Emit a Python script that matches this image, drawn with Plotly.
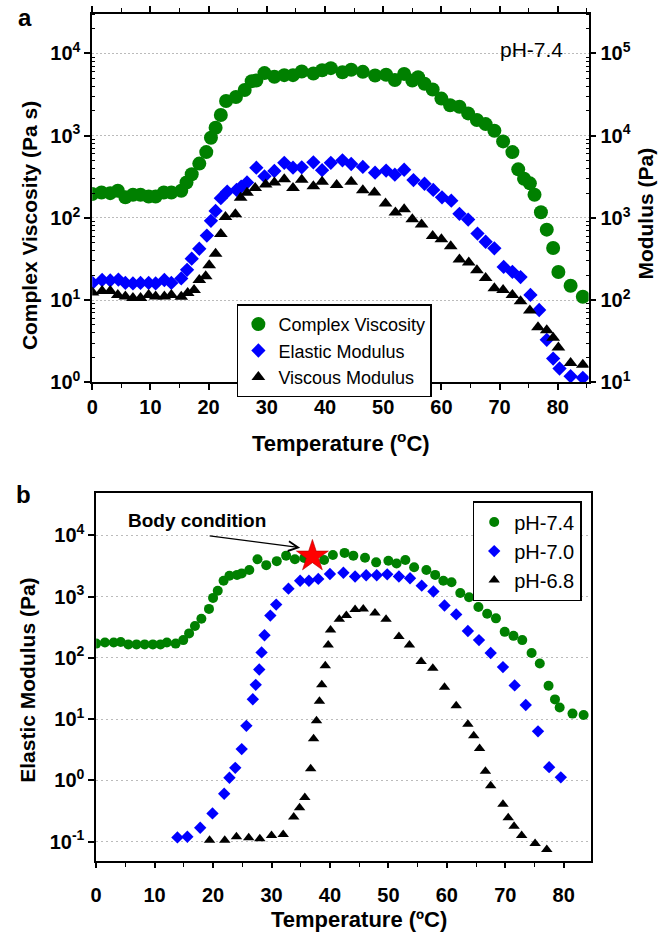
import plotly.graph_objects as go

# ---------------- Panel a data ----------------
a_visc_T = [0.0, 1.6, 3.1, 4.4, 5.7, 7.0, 8.3, 9.7, 10.9, 12.3, 13.6, 15.3, 16.2, 17.1, 18.4, 19.6, 20.4, 21.2, 22.1, 23.0,
            24.7, 26.2, 27.4, 28.2, 29.6, 31.3, 33.0, 34.5, 36.0, 38.0, 39.5, 41.0, 43.0, 44.5, 46.5, 48.6, 50.5, 52.0, 53.6, 55.0,
            56.0, 57.1, 58.5, 60.0, 61.5, 63.1, 64.6, 66.1, 67.6, 69.1, 70.6, 72.2, 73.2, 74.2, 75.2, 76.0, 77.1, 78.1, 79.2, 80.1,
            82.2, 84.3]
a_visc = [195, 204, 200, 214, 178, 191, 191, 182, 182, 204, 204, 214, 269, 339, 457, 631, 944, 1245, 1778, 2630,
          2951, 3589, 4571, 4677, 5754, 5188, 5433, 5433, 6026, 5689, 6237, 6607, 5888, 6310, 5957, 5370, 5495, 4732, 5623, 4677,
          5129, 4266, 3631, 2818, 2344, 2239, 1862, 1549, 1380, 1148, 851, 631, 389, 299, 263, 191, 117, 72, 43, 22,
          15, 11]

a_elas_T = [0.05, 1.7, 3.1, 4.5, 5.7, 7.0, 8.3, 9.7, 10.9, 12.4, 13.6, 15.3, 16.3, 17.1, 18.4, 19.7, 20.4, 21.2, 22.1, 23.2,
            24.8, 25.6, 26.6, 28.2, 29.6, 31.3, 33.0, 34.5, 36.0, 38.0, 39.5, 41.0, 43.0, 44.5, 46.5, 48.6, 50.5, 52.0, 53.6, 55.2,
            57.1, 58.6, 60.1, 61.7, 63.1, 64.6, 66.2, 67.6, 69.1, 70.7, 72.2, 73.6, 75.3, 76.8, 78.1, 79.2, 80.3, 82.2, 84.3]
a_elas = [162, 176, 174, 178, 162, 160, 162, 162, 160, 176, 162, 184, 234, 320, 422, 610, 923, 1216, 1738, 2089,
          2188, 2399, 2692, 4074, 3199, 3715, 4677, 4074, 4121, 4732, 3802, 4677, 5012, 4519, 4169, 3548, 3758, 3350, 3846, 2884,
          2600, 2188, 1778, 1622, 1122, 955, 646, 513, 427, 254, 221, 191, 116, 76, 33, 19.5, 14.8, 11.9, 11.4]

a_visc_mod_T = [0.05, 1.7, 3.1, 4.4, 5.7, 7.0, 8.3, 9.7, 10.9, 12.4, 13.6, 15.3, 16.4, 17.5, 18.4, 19.5, 20.1, 21.2, 22.1, 22.9,
                24.6, 25.5, 26.6, 28.0, 29.8, 31.3, 33.0, 34.5, 36.0, 38.0, 39.5, 42.0, 44.5, 46.5, 48.5, 50.4, 52.1, 53.6, 55.0, 56.6,
                58.5, 60.0, 61.6, 63.1, 64.7, 66.1, 67.6, 69.1, 70.6, 72.2, 73.6, 75.2, 76.6, 78.1, 79.2, 80.1, 82.2, 84.3]
a_visc_mod = [124, 129, 129, 116, 111, 106, 106, 116, 111, 111, 116, 110, 122, 133, 176, 195, 266, 367, 638, 1023,
              1109, 1758, 2018, 2317, 2541, 2692, 2951, 2317, 2917, 2427, 2754, 2512, 2754, 2163, 2042, 1496, 1161, 1274, 966, 832,
              603, 550, 452, 313, 288, 232, 186, 140, 133, 116, 97, 75, 47, 43, 35, 26.6, 17.2, 16.4]

# ---------------- Panel b data ----------------
b74_T = [0.0, 1.5, 3.0, 4.2, 5.5, 6.9, 8.3, 9.7, 11.0, 12.1, 13.6, 14.9, 15.9, 16.9, 18.0, 19.3, 20.0, 20.8, 21.8, 22.8,
         24.1, 24.9, 26.2, 27.6, 29.1, 30.9, 32.5, 34.0, 35.6, 37.1, 39.0, 40.5, 42.5, 44.0, 46.0, 47.9, 50.0, 51.4, 52.9, 54.4,
         56.5, 58.0, 59.4, 60.8, 62.3, 63.8, 65.4, 66.9, 68.4, 69.9, 71.4, 72.9, 74.5, 75.9, 77.4, 78.5, 79.3, 81.5, 83.4]
b74 = [171, 178, 178, 182, 166, 166, 166, 166, 166, 178, 171, 195, 251, 331, 437, 631, 955, 1245, 1820, 2188,
       2265, 2399, 2723, 4074, 3273, 3802, 4677, 4074, 4266, 4365, 3981, 4786, 5188, 4677, 4315, 3631, 3846, 3467, 3981, 3020,
       2723, 2265, 1820, 1718, 1148, 977, 676, 525, 442, 266, 229, 195, 120, 81, 35, 21, 15.5, 12.3, 11.7]

b70_T = [13.9, 15.6, 17.8, 19.9, 21.9, 22.8, 23.8, 24.9, 25.7, 26.8, 27.3, 27.9, 28.3, 28.8, 29.8, 30.8, 32.9, 34.9, 36.4, 38.0,
         40.0, 42.3, 44.3, 46.2, 48.0, 49.8, 51.8, 53.7, 55.7, 57.7, 59.6, 61.6, 63.6, 65.5, 67.5, 69.6, 71.6, 73.5, 75.6, 77.5, 79.5]
b70 = [0.117, 0.120, 0.168, 0.288, 0.603, 1.10, 1.60, 3.24, 7.76, 21.1, 36.3, 64.6, 123, 234, 490, 741, 1349, 1820, 1820, 1950,
       2344, 2455, 2138, 2239, 2239, 2317, 2138, 1995, 1514, 1216, 716, 513, 275, 195, 120, 70.8, 35.5, 17.0, 6.31, 1.64, 1.12]

b68_T = [19.4, 22.0, 24.0, 26.1, 28.0, 30.0, 32.0, 33.8, 34.8, 35.7, 36.7, 37.2, 37.7, 38.2, 38.6, 39.2, 39.7, 40.1, 41.6, 42.8,
         44.3, 45.7, 47.7, 49.6, 51.8, 53.6, 55.6, 57.6, 59.6, 61.6, 63.6, 64.6, 65.6, 66.6, 67.5, 69.6, 70.5, 71.5, 72.8, 75.1, 77.1]
b68 = [0.105, 0.105, 0.120, 0.115, 0.111, 0.126, 0.130, 0.251, 0.355, 0.525, 1.55, 4.79, 9.44, 19.5, 36.3, 74.1, 162, 285, 427, 490,
       617, 631, 543, 427, 224, 162, 87.1, 67.6, 33.1, 16.6, 8.22, 5.37, 3.31, 1.41, 0.813, 0.407, 0.245, 0.178, 0.126, 0.093, 0.074]

body_T = [37.0]
body_val = [4570]

x_ticks = [0, 10, 20, 30, 40, 50, 60, 70, 80]
a_left_exp = [0, 1, 2, 3, 4]
a_right_exp = [1, 2, 3, 4, 5]
b_exp = [-1, 0, 1, 2, 3, 4]

GREEN = "#008000"
BLUE = "#0000ff"
BLACK = "#000000"
FONT = "Liberation Sans"

W, H = 659, 943


def px(x):
    return x / W


def py(y):
    return 1 - y / H


def sup(e):
    return "10<sup>%d</sup>" % e


def minor_vals(exps_lo, exps_hi):
    return [m * 10 ** e for e in range(exps_lo, exps_hi) for m in range(2, 10)]


fig = go.Figure()

# Panel a traces
fig.add_trace(go.Scatter(x=a_visc_T, y=a_visc, mode="markers", name="Complex Viscosity",
                         marker=dict(symbol="circle", size=14, color=GREEN), xaxis="x", yaxis="y", legend="legend"))
fig.add_trace(go.Scatter(x=a_elas_T, y=a_elas, mode="markers", name="Elastic Modulus",
                         marker=dict(symbol="diamond", size=11, color=BLUE), xaxis="x", yaxis="y2", legend="legend"))
fig.add_trace(go.Scatter(x=a_visc_mod_T, y=a_visc_mod, mode="markers", name="Viscous Modulus",
                         marker=dict(symbol="triangle-up", size=12, color=BLACK), xaxis="x", yaxis="y2", legend="legend"))

# Panel b traces
fig.add_trace(go.Scatter(x=b74_T, y=b74, mode="markers", name="pH-7.4",
                         marker=dict(symbol="circle", size=10, color=GREEN), xaxis="x2", yaxis="y3", legend="legend2"))
fig.add_trace(go.Scatter(x=b70_T, y=b70, mode="markers", name="pH-7.0",
                         marker=dict(symbol="diamond", size=9.5, color=BLUE), xaxis="x2", yaxis="y3", legend="legend2"))
fig.add_trace(go.Scatter(x=b68_T, y=b68, mode="markers", name="pH-6.8",
                         marker=dict(symbol="triangle-up", size=10, color=BLACK), xaxis="x2", yaxis="y3", legend="legend2"))
fig.add_trace(go.Scatter(x=body_T, y=body_val, mode="markers", showlegend=False,
                         marker=dict(symbol="star", size=24, color="#ff0000", line=dict(width=0.6, color="#b00000")),
                         xaxis="x2", yaxis="y3"))

tickfont = dict(family=FONT, size=20, color="black", weight="bold")
axcommon = dict(showline=True, linecolor="black", linewidth=1.6, ticks="outside", ticklen=6, tickwidth=1.5,
                tickcolor="black", tickfont=tickfont, zeroline=False)

fig.update_layout(
    width=W, height=H, margin=dict(l=0, r=0, t=0, b=0),
    paper_bgcolor="white", plot_bgcolor="white", showlegend=True,
    xaxis=dict(domain=[px(87), px(588)], anchor="y", range=[0, 85.3], tickmode="array", tickvals=x_ticks,
               showgrid=False, mirror="ticks",
               minor=dict(dtick=5, tick0=0, ticks="outside", ticklen=4, tickwidth=1.2, tickcolor="black"),
               **axcommon),
    yaxis=dict(domain=[py(387), py(14)], anchor="x", type="log", range=[0, 4.48], tickmode="array",
               tickvals=[10 ** e for e in a_left_exp], ticktext=[sup(e) for e in a_left_exp],
               showgrid=True, gridcolor="#bbbbbb", griddash="2px,2px", gridwidth=1,
               minor=dict(tickmode="array", tickvals=minor_vals(0, 5), ticks="inside", ticklen=3, tickwidth=1,
                          tickcolor="black", showgrid=False),
               **axcommon),
    yaxis2=dict(overlaying="y", anchor="x", side="right", type="log", range=[1, 5.48], tickmode="array",
                tickvals=[10 ** e for e in a_right_exp], ticktext=[sup(e) for e in a_right_exp], showgrid=False,
                minor=dict(tickmode="array", tickvals=minor_vals(1, 6), ticks="inside", ticklen=3, tickwidth=1,
                           tickcolor="black", showgrid=False),
                **axcommon),
    xaxis2=dict(domain=[px(91), px(590)], anchor="y3", range=[0, 84.6], tickmode="array", tickvals=x_ticks,
                showgrid=False, mirror=True, ticklabelstandoff=10,
                minor=dict(dtick=5, tick0=0, ticks="outside", ticklen=5, tickwidth=1.2, tickcolor="black"),
                **axcommon),
    yaxis3=dict(domain=[py(870.7), py(499)], anchor="x2", type="log", range=[-1.31, 4.69], tickmode="array",
                tickvals=[10.0 ** e for e in b_exp], ticktext=[sup(e) for e in b_exp], mirror=True,
                showgrid=True, gridcolor="#bbbbbb", griddash="2px,3px", gridwidth=1.2,
                **axcommon),
    legend=dict(x=px(233), y=py(308), xanchor="left", yanchor="top", bgcolor="white", bordercolor="black",
                borderwidth=1.5, font=dict(family=FONT, size=18, color="black"), tracegroupgap=0),
    legend2=dict(x=px(471), y=py(507), xanchor="left", yanchor="top", bgcolor="white", bordercolor="black",
                 borderwidth=1.5, font=dict(family=FONT, size=20, color="black"), tracegroupgap=0),
)

ann = []
titlefont = dict(family=FONT, size=21, color="black", weight="bold")
xtitlefont = dict(family=FONT, size=22, color="black", weight="bold")
ann.append(dict(text="Complex Viscosity (Pa s)", x=px(24), y=py(228), xref="paper", yref="paper",
                textangle=-90, showarrow=False, font=titlefont, xanchor="center", yanchor="middle"))
ann.append(dict(text="Modulus (Pa)", x=px(645), y=py(216), xref="paper", yref="paper",
                textangle=-90, showarrow=False, font=titlefont, xanchor="center", yanchor="middle"))
ann.append(dict(text="Temperature (<sup>o</sup>C)", x=px(338), y=py(447), xref="paper", yref="paper",
                showarrow=False, font=xtitlefont, xanchor="center", yanchor="middle"))
ann.append(dict(text="Elastic Modulus (Pa)", x=px(22), y=py(688), xref="paper", yref="paper",
                textangle=-90, showarrow=False, font=titlefont, xanchor="center", yanchor="middle"))
ann.append(dict(text="Temperature (ºC)", x=px(356), y=py(930), xref="paper", yref="paper",
                showarrow=False, font=xtitlefont, xanchor="center", yanchor="middle"))
ann.append(dict(text="a", x=px(19), y=py(18), xref="paper", yref="paper", showarrow=False,
                font=dict(family=FONT, size=24, color="black", weight="bold"), xanchor="center", yanchor="middle"))
ann.append(dict(text="b", x=px(18), y=py(500), xref="paper", yref="paper", showarrow=False,
                font=dict(family=FONT, size=24, color="black", weight="bold"), xanchor="center", yanchor="middle"))
ann.append(dict(text="pH-7.4", x=px(530), y=py(50), xref="paper", yref="paper", showarrow=False,
                font=dict(family=FONT, size=21, color="black"), xanchor="center", yanchor="middle"))
ann.append(dict(text="Body condition", x=px(193), y=py(527), xref="paper", yref="paper", showarrow=False,
                font=dict(family=FONT, size=19, color="black", weight="bold"), xanchor="center", yanchor="middle"))
ann.append(dict(text="", x=34.9, y=3.80, xref="x2", yref="y3", showarrow=True, ax=-92, ay=-12,
                arrowhead=5, arrowsize=1.6, arrowwidth=1.2, arrowcolor="black"))
fig.update_layout(annotations=ann)

fig.write_html("out.html")
